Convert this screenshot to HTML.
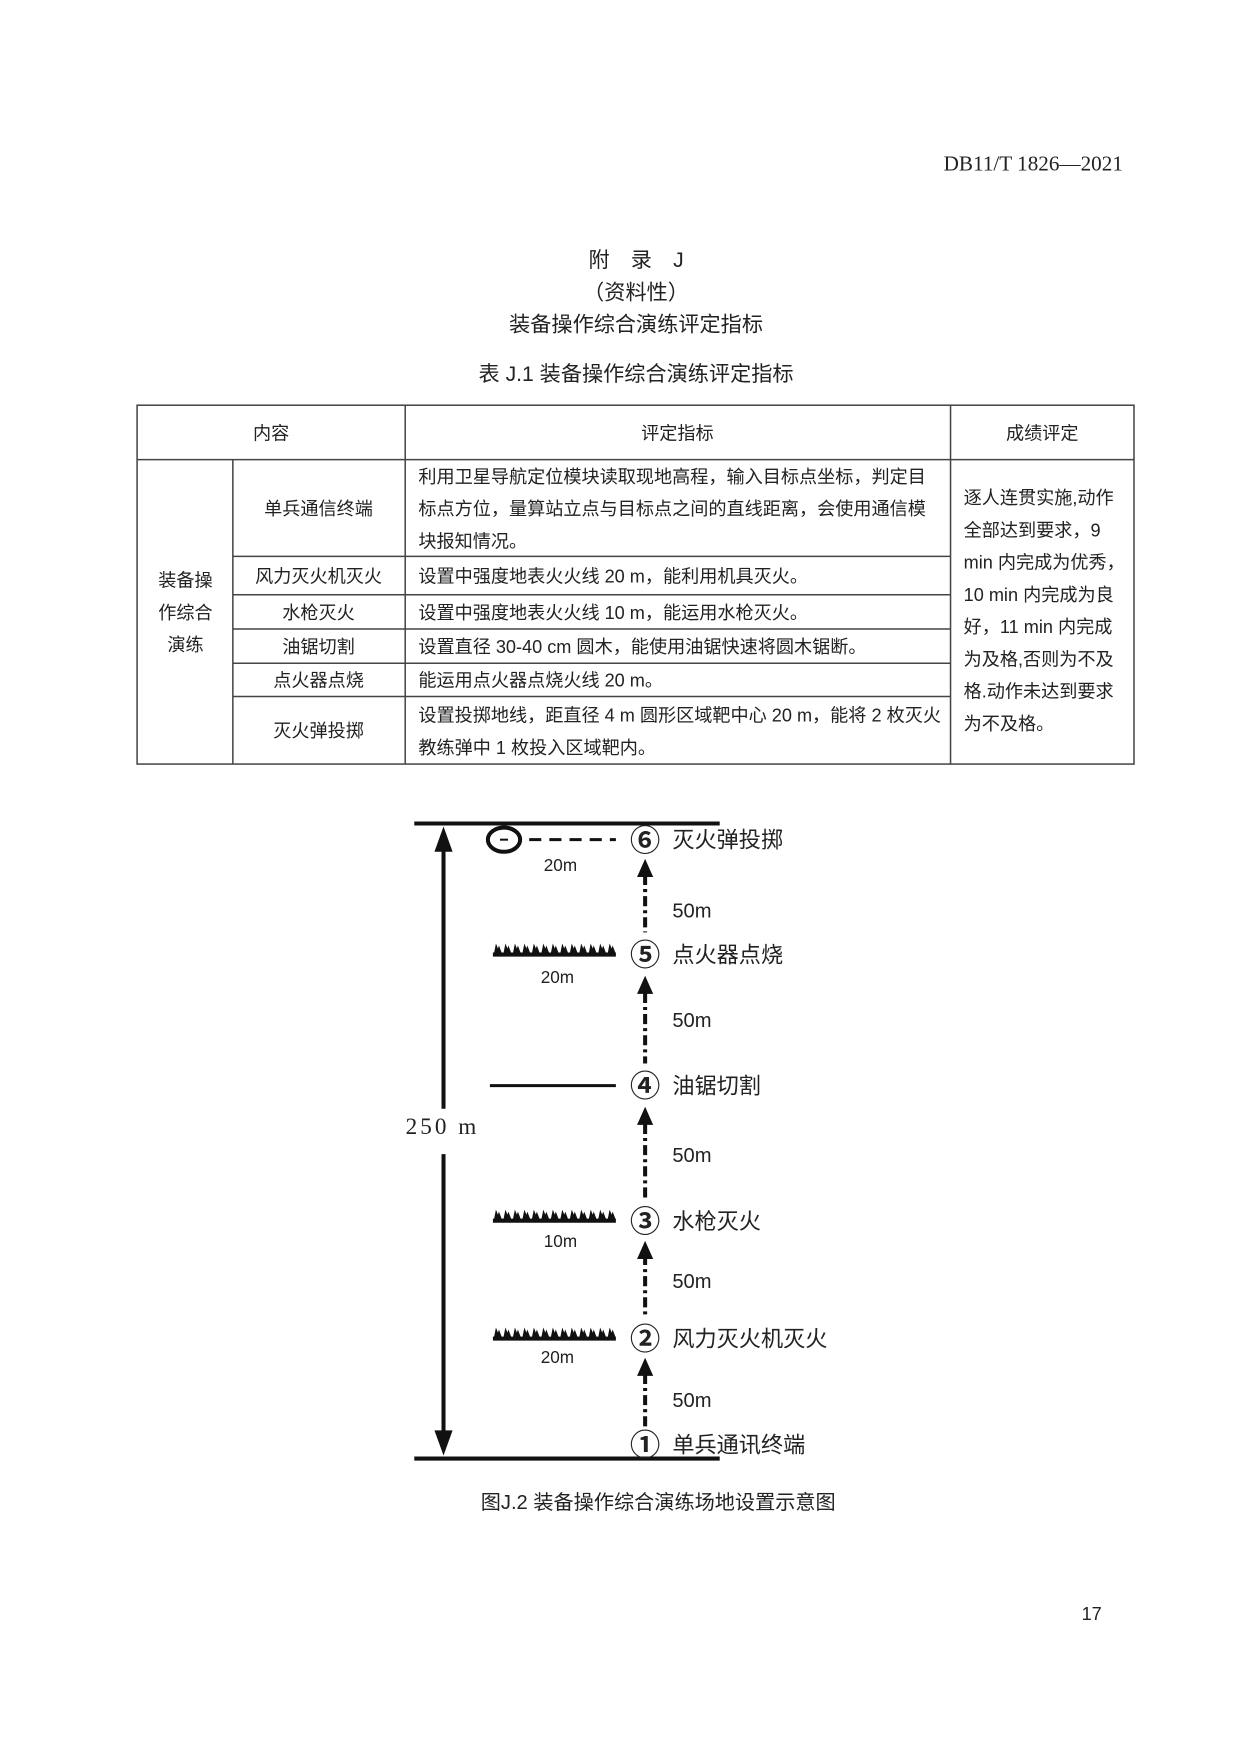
<!DOCTYPE html>
<html><head><meta charset="utf-8"><style>
html,body{margin:0;padding:0;background:#fff}
svg{display:block}
text{font-family:"Liberation Sans","Noto Sans CJK SC",sans-serif;fill:#222}
.s{font-family:"Liberation Serif","Noto Serif CJK SC",serif}
</style></head><body>
<svg width="1240" height="1755" viewBox="0 0 1240 1755" xmlns="http://www.w3.org/2000/svg">
<defs>
<g id="teeth">
<path d="M0 0 l2 -10 l2 5 l1 -3 l3 8Z M9.4 0 l2 -10 l2 5 l1 -3 l3 8Z M18.8 0 l2 -10 l2 5 l1 -3 l3 8Z M28.2 0 l2 -10 l2 5 l1 -3 l3 8Z M37.6 0 l2 -10 l2 5 l1 -3 l3 8Z M47 0 l2 -10 l2 5 l1 -3 l3 8Z M56.4 0 l2 -10 l2 5 l1 -3 l3 8Z M65.8 0 l2 -10 l2 5 l1 -3 l3 8Z M75.2 0 l2 -10 l2 5 l1 -3 l3 8Z M84.6 0 l2 -10 l2 5 l1 -3 l3 8Z M94 0 l2 -10 l2 5 l1 -3 l3 8Z M103.4 0 l2 -10 l2 5 l1 -3 l3 8Z M112.8 0 l2 -10 l2 5 l1 -3 l3 8Z" fill="#111"/>
</g>
</defs>
<g transform="scale(1.008)">
<text x="1114" y="169" font-size="21" text-anchor="end" class="s">DB11/T 1826—2021</text>
<text x="631" y="265" font-size="21" text-anchor="middle">附　录　J</text>
<text x="631" y="297" font-size="21" text-anchor="middle">（资料性）</text>
<text x="631" y="329" font-size="21" text-anchor="middle">装备操作综合演练评定指标</text>
<text x="631" y="378" font-size="21" text-anchor="middle">表 J.1 装备操作综合演练评定指标</text>

<g stroke="#444" stroke-width="1.5" fill="none">
<rect x="136" y="402" width="989" height="356"/>
<line x1="136" y1="456" x2="1125" y2="456"/>
<line x1="231" y1="456" x2="231" y2="758"/>
<line x1="402" y1="402" x2="402" y2="758"/>
<line x1="943" y1="402" x2="943" y2="758"/>
<line x1="231" y1="552" x2="943" y2="552"/>
<line x1="231" y1="590" x2="943" y2="590"/>
<line x1="231" y1="624" x2="943" y2="624"/>
<line x1="231" y1="658" x2="943" y2="658"/>
<line x1="231" y1="691" x2="943" y2="691"/>
</g>
<g font-size="18">
<text x="269" y="436" text-anchor="middle">内容</text>
<text x="672" y="436" text-anchor="middle">评定指标</text>
<text x="1034" y="436" text-anchor="middle">成绩评定</text>
<text x="184" y="582" text-anchor="middle">装备操</text>
<text x="184" y="614" text-anchor="middle">作综合</text>
<text x="184" y="646" text-anchor="middle">演练</text>
<text x="316" y="511" text-anchor="middle">单兵通信终端</text>
<text x="316" y="578" text-anchor="middle">风力灭火机灭火</text>
<text x="316" y="614" text-anchor="middle">水枪灭火</text>
<text x="316" y="648" text-anchor="middle">油锯切割</text>
<text x="316" y="681" text-anchor="middle">点火器点烧</text>
<text x="316" y="731" text-anchor="middle">灭火弹投掷</text>
<text x="415" y="479">利用卫星导航定位模块读取现地高程，输入目标点坐标，判定目</text>
<text x="415" y="511">标点方位，量算站立点与目标点之间的直线距离，会使用通信模</text>
<text x="415" y="543">块报知情况。</text>
<text x="415" y="578">设置中强度地表火火线 20 m，能利用机具灭火。</text>
<text x="415" y="614">设置中强度地表火火线 10 m，能运用水枪灭火。</text>
<text x="415" y="648">设置直径 30-40 cm 圆木，能使用油锯快速将圆木锯断。</text>
<text x="415" y="681">能运用点火器点烧火线 20 m。</text>
<text x="415" y="716">设置投掷地线，距直径 4 m 圆形区域靶中心 20 m，能将 2 枚灭火</text>
<text x="415" y="748">教练弹中 1 枚投入区域靶内。</text>
<text x="956" y="500">逐人连贯实施,动作</text>
<text x="956" y="532">全部达到要求，9</text>
<text x="956" y="564">min 内完成为优秀，</text>
<text x="956" y="596">10 min 内完成为良</text>
<text x="956" y="628">好，11 min 内完成</text>
<text x="956" y="660">为及格,否则为不及</text>
<text x="956" y="692">格.动作未达到要求</text>
<text x="956" y="724">为不及格。</text>
</g>

<g stroke="#111" fill="none">
<line x1="411" y1="817" x2="714" y2="817" stroke-width="4"/>
<line x1="411" y1="1447" x2="714" y2="1447" stroke-width="4"/>
<line x1="440" y1="835" x2="440" y2="1100" stroke-width="4"/>
<line x1="440" y1="1145" x2="440" y2="1425" stroke-width="4"/>
<line x1="486" y1="1077" x2="611" y2="1077" stroke-width="3"/>
<line x1="525" y1="833" x2="611" y2="833" stroke-width="3" stroke-dasharray="12,8"/>
<ellipse cx="500" cy="833" rx="16" ry="12" stroke-width="4"/>
<line x1="496" y1="833" x2="504" y2="833" stroke-width="2"/>
<g stroke-width="4">
<line x1="489" y1="947" x2="611" y2="947"/>
<line x1="489" y1="1211" x2="611" y2="1211"/>
<line x1="489" y1="1328" x2="611" y2="1328"/>
</g>
</g>
<use href="#teeth" x="490" y="946"/>
<use href="#teeth" x="490" y="1210"/>
<use href="#teeth" x="490" y="1327"/>
<path d="M440 820 L431 845 L449 845Z M440 1444 L431 1419 L449 1419Z" fill="#111"/>
<text x="439" y="1125" font-size="23" text-anchor="middle" class="s" letter-spacing="3">250 m</text>
<g stroke="#111" stroke-width="4" stroke-dasharray="10,4,3,4">
<line x1="640" y1="868" x2="640" y2="925"/>
<line x1="640" y1="985" x2="640" y2="1055"/>
<line x1="640" y1="1115" x2="640" y2="1192"/>
<line x1="640" y1="1245" x2="640" y2="1308"/>
<line x1="640" y1="1363" x2="640" y2="1418"/>
</g>
<path d="M640 852 L632 870 L648 870Z M640 968 L632 986 L648 986Z M640 1098 L632 1116 L648 1116Z M640 1231 L632 1249 L648 1249Z M640 1347 L632 1365 L648 1365Z" fill="#111"/>
<g font-size="30" text-anchor="middle" class="s" font-weight="bold">
<text x="640" y="844" fill="#111">⑥</text><text x="640" y="958" fill="#111">⑤</text><text x="640" y="1088" fill="#111">④</text>
<text x="640" y="1222" fill="#111">③</text><text x="640" y="1339" fill="#111">②</text><text x="640" y="1444" fill="#111">①</text>
</g>
<g font-size="22" class="s">
<text x="667" y="841">灭火弹投掷</text>
<text x="667" y="955">点火器点烧</text>
<text x="667" y="1085">油锯切割</text>
<text x="667" y="1219">水枪灭火</text>
<text x="667" y="1336">风力灭火机灭火</text>
<text x="667" y="1441">单兵通讯终端</text>
</g>
<g font-size="20">
<text x="667" y="910">50m</text><text x="667" y="1019">50m</text><text x="667" y="1153">50m</text>
<text x="667" y="1278">50m</text><text x="667" y="1396">50m</text>
</g>
<g font-size="17" class="s" text-anchor="middle">
<text x="556" y="864">20m</text><text x="553" y="975">20m</text>
<text x="556" y="1237">10m</text><text x="553" y="1352">20m</text>
</g>
<text x="653" y="1497" font-size="20" text-anchor="middle">图J.2 装备操作综合演练场地设置示意图</text>
<text x="1083" y="1607" font-size="18" text-anchor="middle">17</text>
</g>
</svg>
</body></html>
